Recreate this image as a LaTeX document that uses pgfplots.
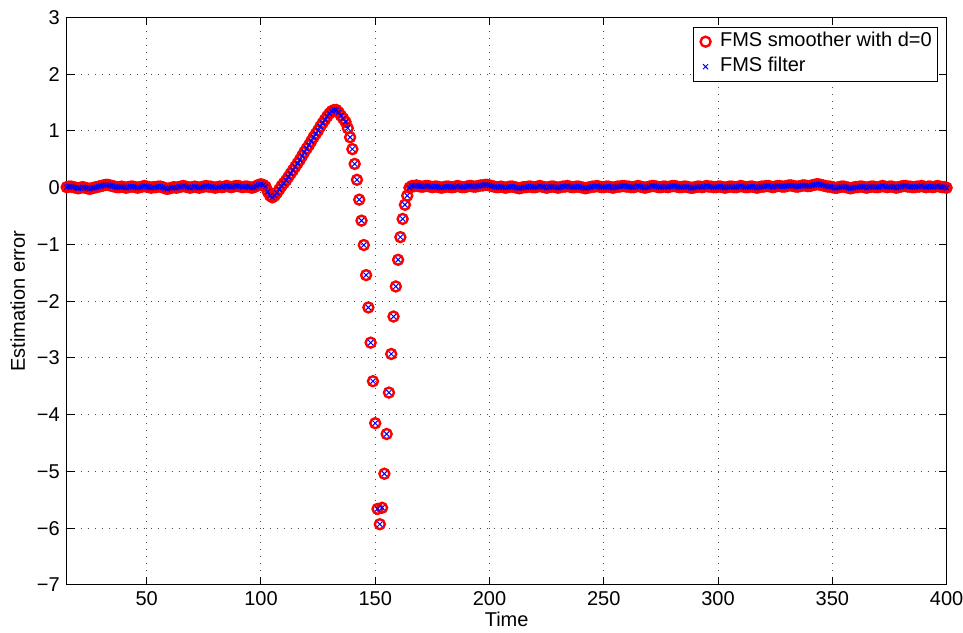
\documentclass[border=0pt]{standalone}
\usepackage{fontspec}
\setmainfont{Liberation Sans}
\usepackage{pgfplots}
\usepackage{pgfplotstable}
\pgfplotsset{compat=1.18}
\usetikzlibrary{calc}

% estimation error (smoother and filter coincide)
\pgfplotstableread[row sep=\\]{
t e\\
15 0.01\\ 16 0.02\\ 17 0.02\\ 18 0.01\\ 19 0.00\\ 20 -0.01\\ 21 0.00\\ 22 0.01\\ 23 0.00\\ 24 -0.01\\
25 -0.02\\ 26 -0.01\\ 27 0.00\\ 28 0.01\\ 29 0.02\\ 30 0.03\\ 31 0.04\\ 32 0.05\\ 33 0.05\\ 34 0.04\\
35 0.03\\ 36 0.02\\ 37 0.01\\ 38 0.01\\ 39 0.02\\ 40 0.01\\ 41 0.00\\ 42 0.01\\ 43 0.02\\ 44 0.02\\
45 0.01\\ 46 0.00\\ 47 0.01\\ 48 0.02\\ 49 0.03\\ 50 0.02\\ 51 0.01\\ 52 0.00\\ 53 0.01\\ 54 0.01\\
55 0.02\\ 56 0.02\\ 57 0.01\\ 58 -0.01\\ 59 -0.02\\ 60 -0.01\\ 61 0.00\\ 62 0.01\\ 63 0.00\\ 64 0.01\\
65 0.02\\ 66 0.03\\ 67 0.02\\ 68 0.01\\ 69 0.00\\ 70 0.01\\ 71 0.02\\ 72 0.01\\ 73 0.00\\ 74 0.01\\
75 0.02\\ 76 0.03\\ 77 0.02\\ 78 0.02\\ 79 0.01\\ 80 0.00\\ 81 0.01\\ 82 0.02\\ 83 0.01\\ 84 0.02\\
85 0.03\\ 86 0.02\\ 87 0.01\\ 88 0.02\\ 89 0.03\\ 90 0.03\\ 91 0.02\\ 92 0.01\\ 93 0.02\\ 94 0.02\\
95 0.01\\ 96 0.00\\ 97 0.01\\ 98 0.03\\ 99 0.05\\ 100 0.06\\ 101 0.05\\ 102 0.02\\ 103 -0.07\\ 104 -0.14\\
105 -0.17\\ 106 -0.14\\ 107 -0.09\\ 108 -0.03\\ 109 0.03\\ 110 0.08\\ 111 0.13\\ 112 0.19\\ 113 0.25\\ 114 0.31\\
115 0.37\\ 116 0.43\\ 117 0.49\\ 118 0.56\\ 119 0.63\\ 120 0.69\\ 121 0.75\\ 122 0.82\\ 123 0.89\\ 124 0.95\\
125 1.01\\ 126 1.08\\ 127 1.14\\ 128 1.20\\ 129 1.26\\ 130 1.31\\ 131 1.35\\ 132 1.37\\ 133 1.37\\ 134 1.33\\
135 1.27\\ 136 1.22\\ 137 1.16\\ 138 1.05\\ 139 0.89\\ 140 0.68\\ 141 0.42\\ 142 0.14\\ 143 -0.21\\ 144 -0.58\\
145 -1.01\\ 146 -1.54\\ 147 -2.11\\ 148 -2.73\\ 149 -3.41\\ 150 -4.15\\ 151 -5.66\\ 152 -5.93\\ 153 -5.64\\ 154 -5.04\\
155 -4.34\\ 156 -3.61\\ 157 -2.93\\ 158 -2.27\\ 159 -1.74\\ 160 -1.27\\ 161 -0.87\\ 162 -0.55\\ 163 -0.30\\ 164 -0.14\\
165 0.00\\ 166 0.03\\
167 0.03\\ 168 0.04\\ 169 0.03\\ 170 0.02\\ 171 0.02\\ 172 0.03\\ 173 0.03\\ 174 0.02\\ 175 0.01\\ 176 0.02\\
177 0.02\\ 178 0.01\\ 179 0.00\\ 180 0.01\\ 181 0.02\\ 182 0.02\\ 183 0.01\\ 184 0.01\\ 185 0.02\\ 186 0.03\\
187 0.02\\ 188 0.01\\ 189 0.01\\ 190 0.02\\ 191 0.03\\ 192 0.03\\ 193 0.02\\ 194 0.02\\ 195 0.03\\ 196 0.04\\
197 0.04\\ 198 0.05\\ 199 0.05\\ 200 0.04\\ 201 0.03\\ 202 0.02\\ 203 0.01\\ 204 0.01\\ 205 0.02\\ 206 0.01\\
207 0.00\\ 208 0.01\\ 209 0.02\\ 210 0.02\\ 211 0.01\\ 212 0.00\\ 213 -0.01\\ 214 0.00\\ 215 0.01\\ 216 0.01\\
217 0.02\\ 218 0.02\\ 219 0.01\\ 220 0.01\\ 221 0.02\\ 222 0.03\\ 223 0.02\\ 224 0.01\\ 225 0.00\\ 226 0.01\\
227 0.02\\ 228 0.02\\ 229 0.01\\ 230 0.00\\ 231 0.01\\ 232 0.02\\ 233 0.02\\ 234 0.03\\ 235 0.02\\ 236 0.01\\
237 0.01\\ 238 0.02\\ 239 0.02\\ 240 0.01\\ 241 0.00\\ 242 -0.01\\ 243 0.00\\ 244 0.01\\ 245 0.02\\ 246 0.02\\
247 0.03\\ 248 0.02\\ 249 0.01\\ 250 0.01\\ 251 0.02\\ 252 0.02\\ 253 0.01\\ 254 0.00\\ 255 0.01\\ 256 0.02\\
257 0.02\\ 258 0.03\\ 259 0.03\\ 260 0.02\\ 261 0.02\\ 262 0.01\\ 263 0.01\\ 264 0.02\\ 265 0.03\\ 266 0.02\\
267 0.01\\ 268 0.00\\ 269 0.01\\ 270 0.02\\ 271 0.03\\ 272 0.03\\ 273 0.02\\ 274 0.01\\ 275 0.01\\ 276 0.02\\
277 0.02\\ 278 0.01\\ 279 0.02\\ 280 0.03\\ 281 0.03\\ 282 0.02\\ 283 0.01\\ 284 0.01\\ 285 0.02\\ 286 0.02\\
287 0.01\\ 288 0.00\\ 289 0.00\\ 290 0.01\\ 291 0.02\\ 292 0.02\\ 293 0.01\\ 294 0.02\\ 295 0.03\\ 296 0.02\\
297 0.02\\ 298 0.01\\ 299 0.01\\ 300 0.02\\ 301 0.02\\ 302 0.01\\ 303 0.00\\ 304 0.01\\ 305 0.02\\ 306 0.02\\
307 0.01\\ 308 0.01\\ 309 0.02\\ 310 0.03\\ 311 0.02\\ 312 0.01\\ 313 0.01\\ 314 0.02\\ 315 0.02\\ 316 0.01\\
317 0.00\\ 318 0.01\\ 319 0.02\\ 320 0.02\\ 321 0.03\\ 322 0.03\\ 323 0.02\\ 324 0.01\\ 325 0.02\\ 326 0.03\\
327 0.03\\ 328 0.02\\ 329 0.02\\ 330 0.03\\ 331 0.04\\ 332 0.04\\ 333 0.03\\ 334 0.02\\ 335 0.02\\ 336 0.03\\
337 0.04\\ 338 0.04\\ 339 0.03\\ 340 0.03\\ 341 0.04\\ 342 0.05\\ 343 0.06\\ 344 0.06\\ 345 0.05\\ 346 0.04\\
347 0.03\\ 348 0.02\\ 349 0.02\\ 350 0.01\\ 351 0.00\\ 352 0.00\\ 353 0.01\\ 354 0.02\\ 355 0.02\\ 356 0.01\\
357 0.00\\ 358 -0.01\\ 359 0.00\\ 360 0.01\\ 361 0.01\\ 362 0.02\\ 363 0.02\\ 364 0.01\\ 365 0.00\\ 366 0.01\\
367 0.02\\ 368 0.02\\ 369 0.01\\ 370 0.01\\ 371 0.02\\ 372 0.03\\ 373 0.02\\ 374 0.01\\ 375 0.02\\ 376 0.02\\
377 0.01\\ 378 0.00\\ 379 0.01\\ 380 0.02\\ 381 0.03\\ 382 0.03\\ 383 0.02\\ 384 0.02\\ 385 0.01\\ 386 0.01\\
387 0.02\\ 388 0.02\\ 389 0.03\\ 390 0.02\\ 391 0.01\\ 392 0.02\\ 393 0.02\\ 394 0.01\\ 395 0.02\\ 396 0.03\\
397 0.02\\ 398 0.01\\ 399 0.01\\ 400 0.00\\
}\errdata

\begin{document}
\begin{tikzpicture}
\begin{axis}[
    name=ax,
    scale only axis, width=440pt, height=283.75pt,
    xmin=15, xmax=400, ymin=-7, ymax=3,
    xtick={50,100,...,400},
    ytick={-7,-6,...,3},
    yticklabels={−7,−6,−5,−4,−3,−2,−1,0,1,2,3},
    /pgf/number format/assume math mode=true,
    ticklabel style={font=\fontsize{10}{12}\selectfont},
    tick align=inside, major tick length=4pt,
    tick style={black, line width=0.5pt},
    axis line style={line width=0.5pt},
    grid=major,
    major grid style={black!70, line width=0.5pt, dash pattern=on 0.6pt off 2.9pt},
    xlabel={Time}, ylabel={Estimation error},
    label style={font=\fontsize{10}{12}\selectfont},
    xlabel style={yshift=4pt},
    ylabel style={yshift=-1pt},
    legend style={at={(1,1)}, anchor=north east, xshift=-4.15pt, yshift=-4.6pt,
        draw=black, line width=0.5pt, inner sep=1pt, row sep=0pt,
        font=\fontsize{10}{12}\selectfont,
        nodes={inner ysep=1.25pt, inner xsep=2pt, text height=7.5pt, text depth=2.5pt}},
    legend cell align=left,
    legend image code/.code={%
        \path (0pt,0pt) (10pt,0pt);
        \draw[#1, only marks] plot coordinates {(5pt,0pt)};},
]
\addplot[only marks, mark=o, mark size=2.5pt, red, mark options={line width=1.2pt}] table {\errdata};
\addlegendentry{FMS smoother with d=0}
\addplot[only marks, mark=x, mark size=1.8pt, blue, mark options={line width=0.5pt}] table {\errdata};
\addlegendentry{FMS filter}
\end{axis}
\pgfresetboundingbox
\path ($(ax.south west)+(-33.35pt,-24pt)$) rectangle ($(ax.north east)+(8.2pt,8.75pt)$);
\end{tikzpicture}
\end{document}
